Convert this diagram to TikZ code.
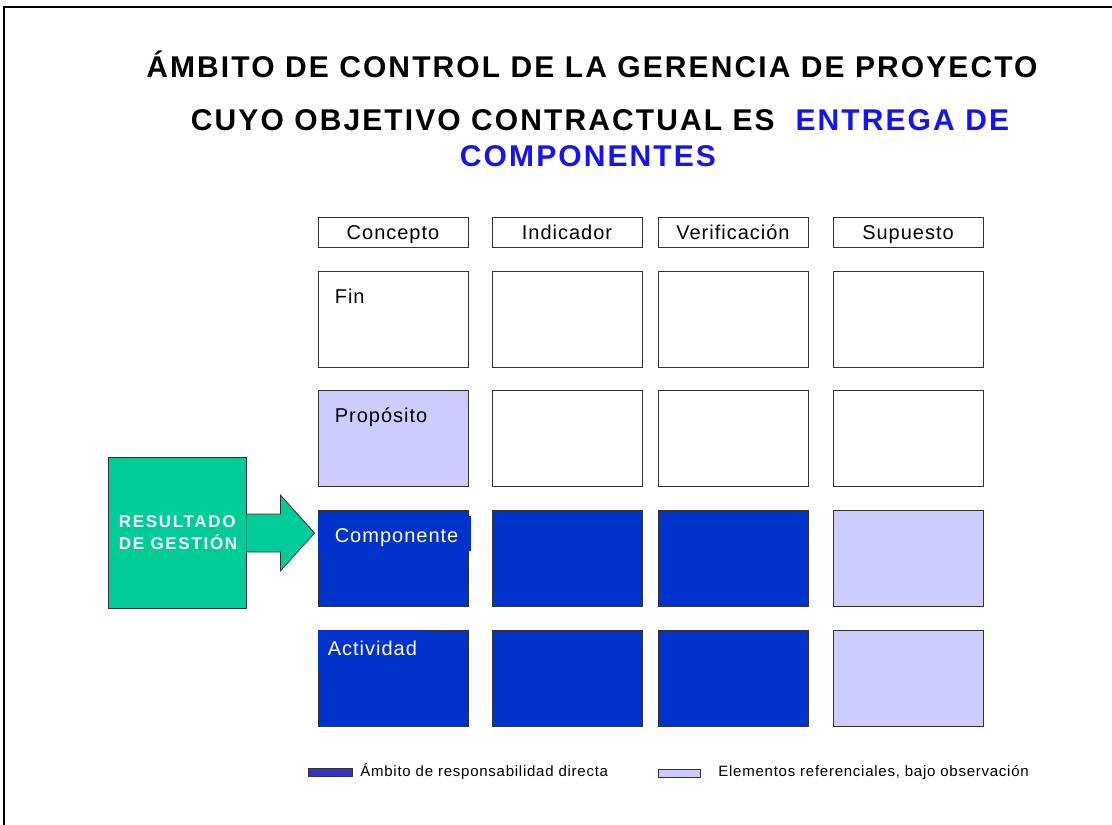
\documentclass[tikz,border=0pt]{standalone}
\usepackage{fontspec}
\setmainfont{Liberation Sans}
\usepackage{xcolor}
\usetikzlibrary{shapes.geometric, arrows, positioning, calc}

\definecolor{azul}{RGB}{0,51,204}
\definecolor{lila}{RGB}{204,204,255}
\definecolor{verde}{RGB}{0,204,153}
\definecolor{azulleg}{RGB}{51,51,204}
\definecolor{azultit}{RGB}{20,20,240}

\begin{document}
\begin{tikzpicture}[x=1pt, y=-1pt]
				% Styles
				\tikzstyle{header} = [draw=black!80, line width=0.8pt, fill=white, minimum width=150pt, minimum height=30pt, inner sep=0pt, text height=14pt, text depth=0pt, font=\addfontfeatures{LetterSpace=5}\fontsize{20}{22}\selectfont]
				\tikzstyle{cell} = [draw=black!80, line width=0.8pt, fill=white, minimum width=150pt, minimum height=96pt, inner sep=0pt]
				\tikzstyle{celltext} = [anchor=base west, inner sep=0pt, font=\addfontfeatures{LetterSpace=5}\fontsize{20}{22}\selectfont]
				\tikzstyle{title} = [font=\bfseries\addfontfeatures{LetterSpace=7}\fontsize{30}{32}\selectfont, inner sep=0pt]
				\tikzstyle{legtext} = [anchor=west, inner sep=0pt, font=\addfontfeatures{LetterSpace=5}\fontsize{15}{17}\selectfont]

				\useasboundingbox (0,0) rectangle (1112,825);
				\draw [line width=1.6pt] (4,825) -- (4,7) -- (1112,7);

				% Title
				\node (t1) [title, anchor=base] at (592,77) {ÁMBITO DE CONTROL DE LA GERENCIA DE PROYECTO};
				\node (t2) [title, anchor=base] at (600,130) {CUYO OBJETIVO CONTRACTUAL ES \ \textcolor{azultit}{ENTREGA DE}};
				\node (t3) [title, anchor=base, text=azultit] at (588,166) {COMPONENTES};

				% Column headers
				\node (hc) [header] at (393,232) {Concepto};
				\node (hi) [header] at (567,232) {Indicador};
				\node (hv) [header] at (733,232) {Verificación};
				\node (hs) [header] at (908,232) {Supuesto};

				% Rows
				\node (fc) [cell] at (393,319) {};
				\node (fi) [cell] at (567,319) {};
				\node (fv) [cell] at (733,319) {};
				\node (fs) [cell] at (908,319) {};

				\node (pc) [cell, fill=lila] at (393,438) {};
				\node (pi) [cell] at (567,438) {};
				\node (pv) [cell] at (733,438) {};
				\node (ps) [cell] at (908,438) {};

				\node (cc) [cell, fill=azul] at (393,558) {};
				\node (ci) [cell, fill=azul] at (567,558) {};
				\node (cv) [cell, fill=azul] at (733,558) {};
				\node (cs) [cell, fill=lila] at (908,558) {};

				\node (ac) [cell, fill=azul] at (393,678) {};
				\node (ai) [cell, fill=azul] at (567,678) {};
				\node (av) [cell, fill=azul] at (733,678) {};
				\node (as) [cell, fill=lila] at (908,678) {};

				% Labels in the cells
				\node (lfin) [celltext] at ($(fc.north west)+(17,33)$) {Fin};
				\node (lprop) [celltext] at ($(pc.north west)+(17,33)$) {Propósito};
				\fill [azul] ($(cc.north west)+(0,6)$) rectangle ($(cc.north east)+(3,41)$);
				\node (lcomp) [celltext, text=white] at ($(cc.north west)+(17,33)$) {Componente};
				\fill [azul] ($(ac.north west)+(0,0)$) rectangle ($(ac.north west)+(110,40)$);
				\node (lact) [celltext, text=white] at ($(ac.north west)+(10,26)$) {Actividad};

				% Result box and arrow
				\node (res) [draw=black!80, line width=0.8pt, fill=verde, minimum width=138pt, minimum height=151pt, inner sep=0pt] at (177,533) {};
				\node (lres) [anchor=west, text=white, align=left, font=\bfseries\addfontfeatures{LetterSpace=10}\fontsize{17}{22}\selectfont, inner sep=0pt] at ($(res.west)+(11,0)$) {RESULTADO\\DE GESTIÓN};
				\draw [draw=black!80, line width=0.8pt, fill=verde]
					($(res.east)+(0,-19)$) -- ++(34,0) -- ++(0,-19) -- ($(cc.west |- res.east)+(-3,0)$)
					-- ($(res.east)+(34,38)$) -- ++(0,-19) -- ($(res.east)+(0,19)$);

				% Legend
				\node (kdir) [draw=black!80, fill=azulleg, minimum width=44pt, minimum height=8pt, inner sep=0pt] at (330,772) {};
				\node (ldir) [legtext, right=8pt of kdir] {Ámbito de responsabilidad directa};
				\node (kref) [draw=black!80, fill=lila, minimum width=42pt, minimum height=8pt, inner sep=0pt] at (679,773) {};
				\node (lref) [legtext, right=18pt of kref] {Elementos referenciales, bajo observación};

			\end{tikzpicture}
\end{document}
